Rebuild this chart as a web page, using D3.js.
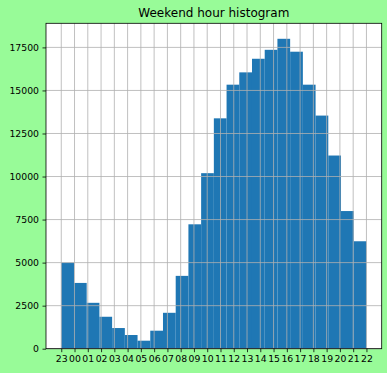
<!DOCTYPE html>
<html>
<head>
<meta charset="utf-8">
<script src="https://cdn.jsdelivr.net/npm/d3@7"></script>
<style>
  body { margin: 0; background: #98fb98; }
  svg { display: block; font-family: "DejaVu Sans", sans-serif; }
</style>
</head>
<body>
<div id="chart"></div>
<script>
// hour labels, in the order they sit on the axis
var hourLabels = ["23","00","01","02","03","04","05","06","07","08","09","10",
                  "11","12","13","14","15","16","17","18","19","20","21","22"];
// counts per bin (24 bins spread over the 0..23 tick range)
var counts = [5000, 3820, 2665, 1855, 1200, 795, 465, 1045, 2085, 4230, 7225, 10195,
              13380, 15335, 16050, 16840, 17360, 18000, 17250, 15335, 13540, 11220, 7995, 6240];
var yTicks = [0, 2500, 5000, 7500, 10000, 12500, 15000, 17500];

var width = 387, height = 373;
var margin = { left: 46, right: 5.3, top: 23.3, bottom: 24.3 };
var pw = width - margin.left - margin.right,
    ph = height - margin.top - margin.bottom;

var svg = d3.select("#chart").append("svg")
    .attr("width", width)
    .attr("height", height);

svg.append("rect").attr("width", width).attr("height", height).attr("fill", "#98fb98");

var g = svg.append("g").attr("transform", "translate(" + margin.left + "," + margin.top + ")");

var nBins = counts.length;
var lo = 0, hi = hourLabels.length - 1;
var binW = (hi - lo) / nBins;
var pad = (hi - lo) * 0.05;

var x = d3.scaleLinear().domain([lo - pad, hi + pad]).range([0, pw]);
var y = d3.scaleLinear().domain([0, d3.max(counts) * 1.05]).range([ph, 0]);

g.append("rect").attr("width", pw).attr("height", ph).attr("fill", "white");

// bars
g.selectAll("rect.bar")
    .data(counts)
    .enter().append("rect")
    .attr("class", "bar")
    .attr("x", function(d, i) { return x(lo + i * binW); })
    .attr("width", function(d, i) { return x(lo + (i + 1) * binW) - x(lo + i * binW); })
    .attr("y", function(d) { return y(d); })
    .attr("height", function(d) { return y(0) - y(d); })
    .attr("fill", "#1f77b4");

// grid on top of the bars
var xTickVals = d3.range(hourLabels.length);
g.selectAll("line.gx")
    .data(xTickVals)
    .enter().append("line")
    .attr("x1", function(d) { return x(d); })
    .attr("x2", function(d) { return x(d); })
    .attr("y1", 0).attr("y2", ph)
    .attr("stroke", "#b0b0b0").attr("stroke-width", 0.8);
g.selectAll("line.gy")
    .data(yTicks)
    .enter().append("line")
    .attr("y1", function(d) { return y(d); })
    .attr("y2", function(d) { return y(d); })
    .attr("x1", 0).attr("x2", pw)
    .attr("stroke", "#b0b0b0").attr("stroke-width", 0.8);

// axes
var xAxis = d3.axisBottom(x)
    .tickValues(xTickVals)
    .tickFormat(function(d) { return hourLabels[d]; })
    .tickSizeInner(3.5).tickSizeOuter(0).tickPadding(3.5);
var yAxis = d3.axisLeft(y)
    .tickValues(yTicks)
    .tickFormat(d3.format("d"))
    .tickSizeInner(3.5).tickSizeOuter(0).tickPadding(3.5);

var gx = g.append("g").attr("transform", "translate(0," + ph + ")").call(xAxis);
var gy = g.append("g").call(yAxis);
[gx, gy].forEach(function(a) {
  a.select(".domain").remove();
  a.selectAll("line").attr("stroke", "black").attr("stroke-width", 0.8);
  a.selectAll("text").attr("fill", "black").style("font-size", "9.3px")
    .style("font-family", "'DejaVu Sans', sans-serif");
});

// frame
g.append("rect").attr("width", pw).attr("height", ph)
    .attr("fill", "none").attr("stroke", "black").attr("stroke-width", 0.8);

// title
svg.append("text")
    .attr("x", margin.left + pw / 2)
    .attr("y", margin.top - 6)
    .attr("text-anchor", "middle")
    .style("font-size", "12px")
    .text("Weekend hour histogram");
</script>
</body>
</html>
